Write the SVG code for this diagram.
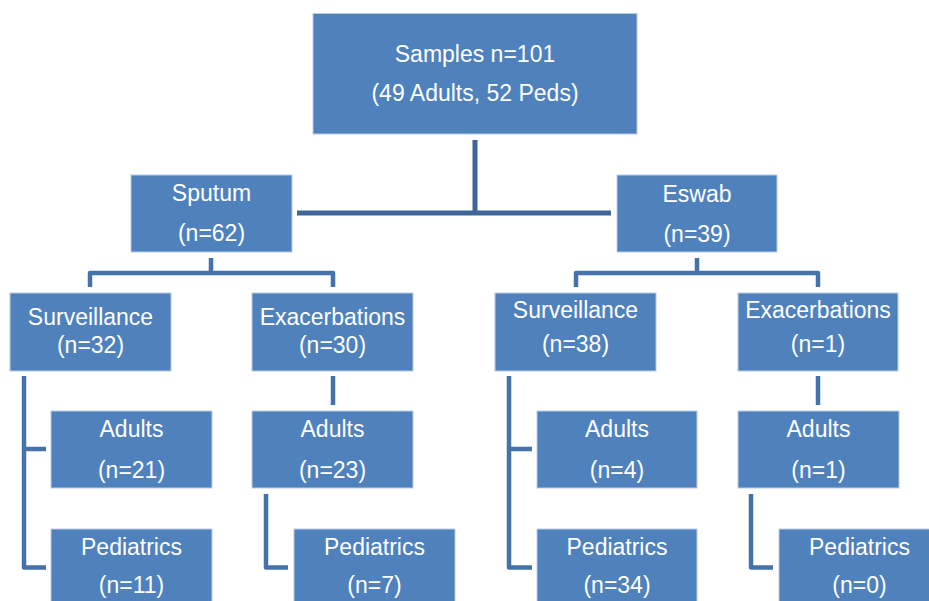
<svg xmlns="http://www.w3.org/2000/svg" width="929" height="601" viewBox="0 0 929 601">
<style>
.box{fill:#4f81bd;stroke:#b9cde6;stroke-width:1}
.t{font-family:"Liberation Sans",Arial,sans-serif;font-size:23px;fill:#ffffff;text-anchor:middle}
.c{fill:none;stroke:#4672ab;stroke-width:4.5;stroke-linejoin:round;stroke-linecap:butt}
.cm{fill:none;stroke:#3f6698;stroke-width:5}
</style>
<rect width="929" height="601" fill="#ffffff"/>
<g id="connectors">
<path class="cm" d="M475,140 V213 M297,213 H611"/>
<path class="c" d="M211,258 V273 M90,287 V273 H333 V287"/>
<path class="c" d="M697,258 V273 M576,287 V273 H818 V287"/>
<path class="c" d="M24,376 V567.5 H46 M24,449 H46"/>
<path class="c" d="M333,376 V405"/>
<path class="c" d="M266,494 V567.5 H288"/>
<path class="c" d="M509,376 V567.5 H532 M509,449 H532"/>
<path class="c" d="M818,376 V405"/>
<path class="c" d="M751,494 V567.5 H773"/>
</g>
<g id="samples">
<rect class="box" x="313" y="13.5" width="324" height="120.5"/>
<text class="t" x="475" y="62">Samples n=101</text>
<text class="t" x="475" y="101">(49 Adults, 52 Peds)</text>
</g>
<g id="sputum">
<rect class="box" x="131" y="175" width="161" height="77"/>
<text class="t" x="211.5" y="201">Sputum</text>
<text class="t" x="211.5" y="241">(n=62)</text>
</g>
<g id="eswab">
<rect class="box" x="617" y="175" width="160" height="77"/>
<text class="t" x="697" y="201.5">Eswab</text>
<text class="t" x="697" y="241.5">(n=39)</text>
</g>
<g id="sputum-surveillance">
<rect class="box" x="10" y="293" width="161" height="78"/>
<text class="t" x="90.5" y="325">Surveillance</text>
<text class="t" x="90.5" y="353">(n=32)</text>
</g>
<g id="sputum-exacerbations">
<rect class="box" x="252" y="293" width="161" height="78"/>
<text class="t" x="332.5" y="325">Exacerbations</text>
<text class="t" x="332.5" y="353">(n=30)</text>
</g>
<g id="eswab-surveillance">
<rect class="box" x="495" y="293" width="161" height="78"/>
<text class="t" x="575.5" y="318">Surveillance</text>
<text class="t" x="575.5" y="352">(n=38)</text>
</g>
<g id="eswab-exacerbations">
<rect class="box" x="738" y="293" width="160" height="78"/>
<text class="t" x="818" y="318">Exacerbations</text>
<text class="t" x="818" y="352">(n=1)</text>
</g>
<g id="sputum-surv-adults">
<rect class="box" x="51" y="411" width="161" height="77"/>
<text class="t" x="131.5" y="437">Adults</text>
<text class="t" x="131.5" y="478">(n=21)</text>
</g>
<g id="sputum-surv-peds">
<rect class="box" x="51" y="529" width="161" height="80"/>
<text class="t" x="131.5" y="555">Pediatrics</text>
<text class="t" x="131.5" y="593">(n=11)</text>
</g>
<g id="sputum-exac-adults">
<rect class="box" x="252" y="411" width="161" height="77"/>
<text class="t" x="332.5" y="437">Adults</text>
<text class="t" x="332.5" y="478">(n=23)</text>
</g>
<g id="sputum-exac-peds">
<rect class="box" x="294" y="529" width="161" height="80"/>
<text class="t" x="374.5" y="555">Pediatrics</text>
<text class="t" x="374.5" y="593">(n=7)</text>
</g>
<g id="eswab-surv-adults">
<rect class="box" x="537" y="411" width="160" height="77"/>
<text class="t" x="617" y="437">Adults</text>
<text class="t" x="617" y="478">(n=4)</text>
</g>
<g id="eswab-surv-peds">
<rect class="box" x="537" y="529" width="160" height="80"/>
<text class="t" x="617" y="555">Pediatrics</text>
<text class="t" x="617" y="593">(n=34)</text>
</g>
<g id="eswab-exac-adults">
<rect class="box" x="738" y="411" width="161" height="77"/>
<text class="t" x="818.5" y="437">Adults</text>
<text class="t" x="818.5" y="478">(n=1)</text>
</g>
<g id="eswab-exac-peds">
<rect class="box" x="779" y="529" width="161" height="80"/>
<text class="t" x="859.5" y="555">Pediatrics</text>
<text class="t" x="859.5" y="593">(n=0)</text>
</g>
</svg>
